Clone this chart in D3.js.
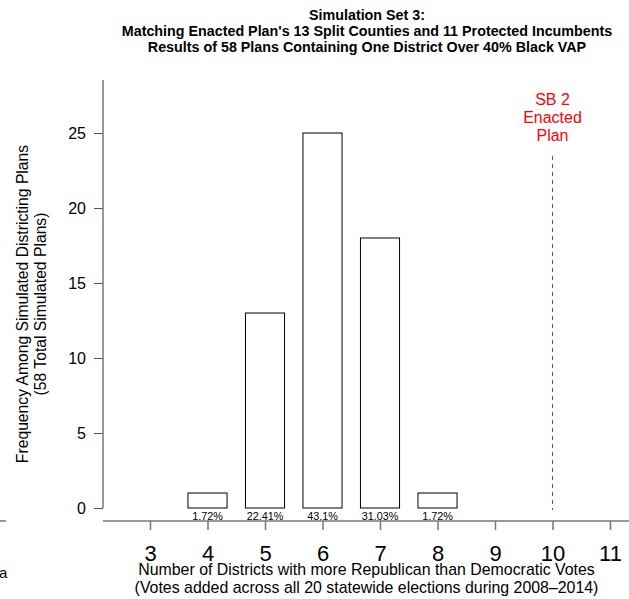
<!DOCTYPE html>
<html><head><meta charset="utf-8">
<script src="https://cdn.jsdelivr.net/npm/d3@7"></script>
<style>body{margin:0;background:#fff}svg{display:block;font-family:"Liberation Sans",Arial,Helvetica,sans-serif}</style>
</head><body><svg id="c" width="629" height="599"></svg>
<script>
const categories = [4, 5, 6, 7, 8];
const counts = [1, 13, 25, 18, 1];
const percentLabels = ["1.72%", "22.41%", "43.1%", "31.03%", "1.72%"];
const xTicks = [3, 4, 5, 6, 7, 8, 9, 10, 11];
const yTicks = [0, 5, 10, 15, 20, 25];
const enactedValue = 10;
const enactedLabel = ["SB 2", "Enacted", "Plan"];
const titleLines = ["Simulation Set 3:", "Matching Enacted Plan's 13 Split Counties and 11 Protected Incumbents", "Results of 58 Plans Containing One District Over 40% Black VAP"];
const yTitle = ["Frequency Among Simulated Districting Plans", "(58 Total Simulated Plans)"];
const xTitle = ["Number of Districts with more Republican than Democratic Votes", "(Votes added across all 20 statewide elections during 2008\u20132014)"];

const svg = d3.select("#c");
const x = d3.scaleLinear().domain([3, 11]).range([150, 610]);
const y = d3.scaleLinear().domain([0, 25]).range([508, 133]);
const axisCol = "#777";
const barW = 0.68;

// title
svg.append("g").selectAll("text").data(titleLines).join("text")
  .attr("x", 367).attr("y", (d,i)=>20 + i*16)
  .attr("text-anchor","middle").attr("font-weight","bold").attr("font-size",14.3)
  .attr("fill","#000").text(d=>d);

// y axis
const yAxis = d3.axisLeft(y).tickValues(yTicks).tickSize(9).tickPadding(8).tickFormat(d3.format("d"));
const gy = svg.append("g").attr("transform","translate(103,0)").call(yAxis);
gy.select(".domain").remove();
gy.append("line").attr("x1",0).attr("x2",0).attr("y1",y(0)).attr("y2",80).attr("stroke",axisCol).attr("stroke-width",1.5);
gy.selectAll(".tick line").attr("stroke","#555");
gy.selectAll(".tick text").attr("font-size",16).attr("fill","#000").attr("font-family","Liberation Sans, Arial, sans-serif");

// x axis
const xAxis = d3.axisBottom(x).tickValues(xTicks).tickSize(9).tickPadding(15).tickFormat(d3.format("d"));
const gx = svg.append("g").attr("transform","translate(0,521)").call(xAxis);
gx.select(".domain").remove();
gx.append("line").attr("x1",103).attr("x2",629).attr("y1",0).attr("y2",0).attr("stroke",axisCol).attr("stroke-width",1.5);
gx.selectAll(".tick line").attr("stroke",axisCol).attr("stroke-width",1.5);
gx.selectAll(".tick text").attr("font-size",22).attr("fill","#000").attr("font-family","Liberation Sans, Arial, sans-serif");

// fragment of neighbouring panel
svg.append("line").attr("x1",0).attr("x2",6).attr("y1",521).attr("y2",521).attr("stroke",axisCol).attr("stroke-width",1.5);
svg.append("text").attr("x",-1).attr("y",578).attr("font-size",15).text("a");

// bars
svg.append("g").selectAll("rect").data(categories).join("rect")
  .attr("x", d=>x(d - barW/2)).attr("width", d=>x(d + barW/2) - x(d - barW/2))
  .attr("y", (d,i)=>y(counts[i])).attr("height", (d,i)=>y(0)-y(counts[i]))
  .attr("fill","#fff").attr("stroke","#000").attr("stroke-width",1);

svg.append("g").selectAll("text").data(categories).join("text")
  .attr("x", d=>x(d)).attr("y", 519.5).attr("text-anchor","middle").attr("font-size",10.8)
  .text((d,i)=>percentLabels[i]);

// enacted line
svg.append("line").attr("x1",x(enactedValue)).attr("x2",x(enactedValue)).attr("y1",156).attr("y2",510)
  .attr("stroke","#d0303c").attr("stroke-width",1).attr("stroke-dasharray","4,4");
svg.append("g").selectAll("text").data(enactedLabel).join("text")
  .attr("x", x(enactedValue)).attr("y",(d,i)=>105 + i*18).attr("text-anchor","middle")
  .attr("font-size",16).attr("fill","#ff0000").text(d=>d);

// y title
svg.append("g").selectAll("text").data(yTitle).join("text")
  .attr("transform",(d,i)=>`translate(${28 + i*18},304) rotate(-90)`)
  .attr("text-anchor","middle").attr("font-size",15.7).text(d=>d);

// x title
svg.append("g").selectAll("text").data(xTitle).join("text")
  .attr("x", 366.5).attr("y",(d,i)=>574.5 + i*18.5).attr("text-anchor","middle")
  .attr("font-size",15.9).text(d=>d);
</script></body></html>
